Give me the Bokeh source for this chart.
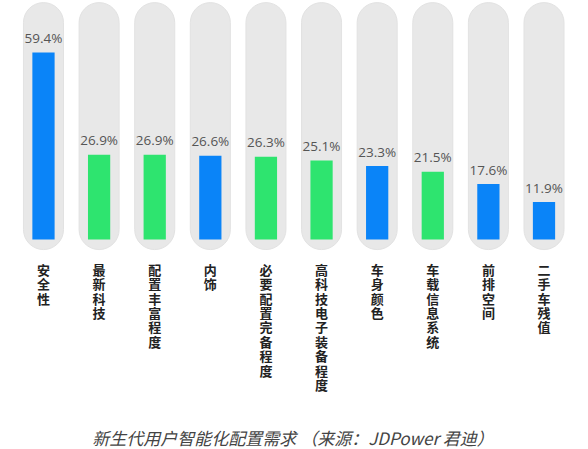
from bokeh.plotting import figure
from bokeh.models import ColumnDataSource
from bokeh.core.properties import value
from bokeh.embed import file_html
from bokeh.resources import INLINE

categories = ["安全性", "最新科技", "配置丰富程度", "内饰", "必要配置完备程度",
              "高科技电子装备程度", "车身颜色", "车载信息系统", "前排空间", "二手车残值"]
values = [59.4, 26.9, 26.9, 26.6, 26.3, 25.1, 23.3, 21.5, 17.6, 11.9]
groups = ["blue", "green", "green", "blue", "green", "green", "blue", "green", "blue", "blue"]
caption = "新生代用户智能化配置需求 （来源：JDPower 君迪）"

palette = {"blue": "#0a84f8", "green": "#2ee46f"}

xs = list(range(len(categories)))
src = ColumnDataSource(dict(
    x=xs,
    v=values,
    color=[palette[g] for g in groups],
    vlabel=[f"{v:.1f}%" for v in values],
    clabel=["\n".join(list(c)) for c in categories],
    pill_top=[75.2] * len(xs),
    pill_bot=[-3.2] * len(xs),
    lab_y=[-6.4] * len(xs),
    vl_y=[v + 1.7 for v in values],
))

p = figure(width=588, height=449, output_backend="svg", toolbar_location=None,
           x_range=(-0.773, 9.80), y_range=(-66.67, 75.87), min_border=0)
p.axis.visible = False
p.grid.visible = False
p.outline_line_color = None
p.background_fill_color = "white"

p.vbar(x="x", bottom="pill_bot", top="pill_top", width=0.72, source=src,
       fill_color="#e8e8e8", line_color="#e2e2e2", border_radius=20)
p.vbar(x="x", bottom=0, top="v", width=0.40, source=src,
       fill_color="color", line_color=None)

p.text(x="x", y="vl_y", text="vlabel", source=src, text_align="center",
       text_baseline="bottom", text_font=value("Open Sans"), text_font_size="13.5px",
       text_color="#555555")

p.text(x="x", y="lab_y", text="clabel", source=src, text_align="center",
       text_baseline="top", text_font=value("Noto Sans CJK SC"), text_font_size="13px",
       text_font_style="bold", text_color="#222222", text_line_height=0.76)

p.text(x=[4.488], y=[-62.86], text=[caption], text_align="center",
       text_baseline="middle", text_font=value("Noto Sans CJK SC"), text_font_size="17px",
       text_font_style="italic", text_color="#444444")

open("out.html", "w").write(file_html(p, INLINE))
